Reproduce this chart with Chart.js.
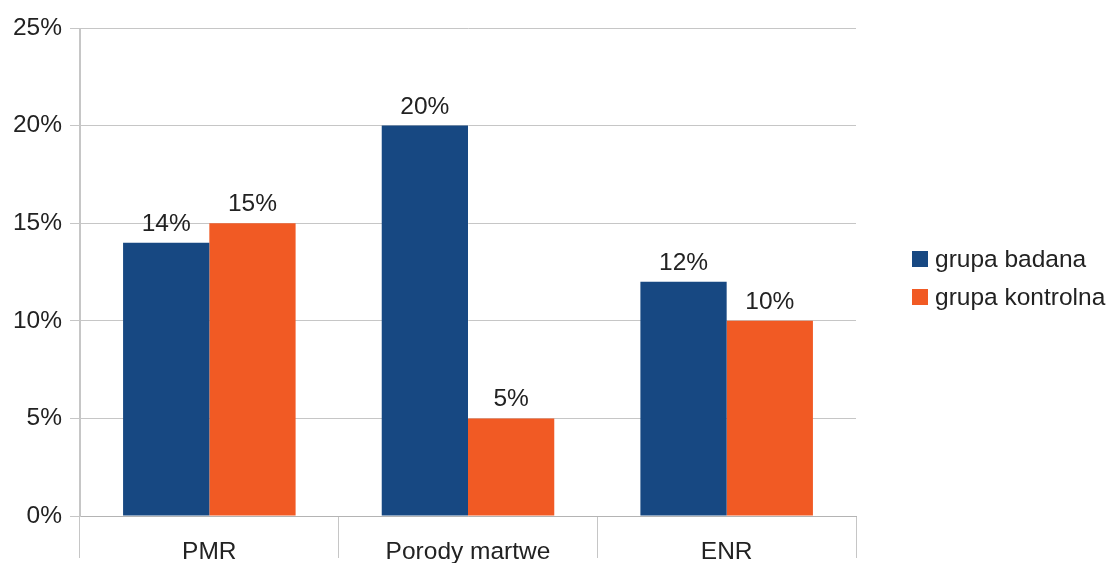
<!DOCTYPE html>
<html>
<head>
<meta charset="utf-8">
<script src="https://cdn.jsdelivr.net/npm/chart.js@4/dist/chart.umd.min.js"></script>
<style>
  html, body { margin: 0; padding: 0; background: #fff; }
  #wrap { width: 1110px; height: 563px; }
</style>
</head>
<body>
<div id="wrap"><canvas id="chart"></canvas></div>
<script>
var categories = ['PMR', 'Porody martwe', 'ENR'];
var seriesNames = ['grupa badana', 'grupa kontrolna'];
var badana = [14, 20, 12];
var kontrolna = [15, 5, 10];
var yTicks = [0, 5, 10, 15, 20, 25];

var FONT = '"Liberation Sans", Arial, sans-serif';
var FSIZE = 24.5;
var gridGray = '#c6c6c6';
var textColor = '#222';

// value labels above each bar
var barLabels = {
  id: 'barLabels',
  afterDatasetsDraw: function(chart) {
    var ctx = chart.ctx;
    ctx.save();
    ctx.font = FSIZE + 'px ' + FONT;
    ctx.fillStyle = textColor;
    ctx.textAlign = 'center';
    ctx.textBaseline = 'alphabetic';
    chart.data.datasets.forEach(function(ds, i) {
      chart.getDatasetMeta(i).data.forEach(function(bar, j) {
        ctx.fillText(ds.data[j] + '%', bar.x, bar.y - 12);
      });
    });
    ctx.restore();
  }
};

// legend on the right, squares + names
var sideLegend = {
  id: 'sideLegend',
  afterDraw: function(chart) {
    var ctx = chart.ctx;
    ctx.save();
    ctx.font = FSIZE + 'px ' + FONT;
    ctx.textBaseline = 'middle';
    chart.data.datasets.forEach(function(ds, i) {
      var y = 259 + i * 38;
      ctx.fillStyle = ds.backgroundColor;
      ctx.fillRect(912, y - 8, 16, 16);
      ctx.fillStyle = textColor;
      ctx.fillText(ds.label, 935, y + 1);
    });
    ctx.restore();
  }
};

new Chart(document.getElementById('chart').getContext('2d'), {
  type: 'bar',
  data: {
    labels: categories,
    datasets: [
      { label: seriesNames[0], data: badana, backgroundColor: '#174882' },
      { label: seriesNames[1], data: kontrolna, backgroundColor: '#f15a24' }
    ]
  },
  options: {
    responsive: true,
    maintainAspectRatio: false,
    animation: false,
    layout: { padding: { top: 28, right: 254, left: 0, bottom: 0 } },
    datasets: { bar: { categoryPercentage: 0.667, barPercentage: 1.0 } },
    plugins: { legend: { display: false }, tooltip: { enabled: false } },
    scales: {
      x: {
        afterFit: function(s) { s.height = 47; },
        grid: {
          offset: true,
          drawOnChartArea: true,
          color: function(c) { return (c.index === 0 || c.index === categories.length) ? gridGray : 'rgba(0,0,0,0)'; },
          tickColor: gridGray,
          tickLength: 42
        },
        border: { display: true, color: '#b4b4b4', width: 1 },
        ticks: { color: textColor, font: { family: FONT, size: FSIZE }, padding: -20, maxRotation: 0 }
      },
      y: {
        min: 0,
        max: 25,
        afterFit: function(s) { s.width = 80; },
        afterBuildTicks: function(s) { s.ticks = yTicks.map(function(v) { return { value: v }; }); },
        grid: { color: gridGray, tickColor: gridGray, tickLength: 10 },
        border: { display: true, color: gridGray },
        ticks: {
          color: textColor,
          font: { family: FONT, size: FSIZE },
          padding: 8,
          callback: function(v) { return v + '%'; }
        }
      }
    }
  },
  plugins: [barLabels, sideLegend]
});
</script>
</body>
</html>
